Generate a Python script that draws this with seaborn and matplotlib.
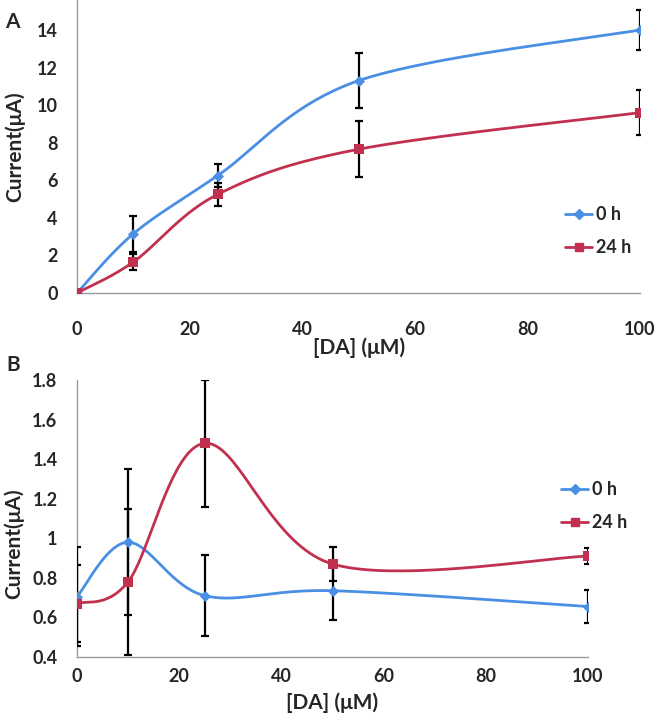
import numpy as np
import matplotlib
matplotlib.use("Agg")
import matplotlib.pyplot as plt
import seaborn as sns
from matplotlib.lines import Line2D
from matplotlib.ticker import FuncFormatter

# data
conc = [0, 10, 25, 50, 100]
a_0h = [0, 3.15, 6.25, 11.3, 14.0]
a_0h_err = [0, 0.95, 0.6, 1.45, 1.05]
a_24h = [0, 1.65, 5.25, 7.65, 9.6]
a_24h_err = [0, 0.45, 0.62, 1.5, 1.2]
b_0h = [0.705, 0.98, 0.71, 0.735, 0.655]
b_0h_err = [0.25, 0.37, 0.205, 0.15, 0.085]
b_24h = [0.67, 0.78, 1.48, 0.87, 0.91]
b_24h_err = [0.195, 0.37, 0.32, 0.085, 0.04]
labels = ["0 h", "24 h"]

blue = "#4a8fe3"
red = "#c1314f"

sns.set_style("white")
plt.rcParams["font.family"] = ["Lato", "DejaVu Sans"]
plt.rcParams["font.weight"] = "bold"


def smooth(xs, ys, n=40):
    # excel style smoothed line (bezier through the points)
    p = np.column_stack([xs, ys]).astype(float)
    p = np.vstack([p[0], p, p[-1]])
    out = []
    t = np.linspace(0, 1, n)[:, None]
    for i in range(1, len(p) - 2):
        p0, p3 = p[i], p[i + 1]
        c1 = p0 + (p[i + 1] - p[i - 1]) / 6
        c2 = p3 - (p[i + 2] - p[i]) / 6
        seg = (1 - t) ** 3 * p0 + 3 * (1 - t) ** 2 * t * c1 + 3 * (1 - t) * t ** 2 * c2 + t ** 3 * p3
        out.append(seg if i == 1 else seg[1:])
    out = np.vstack(out)
    return out[:, 0], out[:, 1]


def draw(ax, series, legend_xy):
    for vals, errs, col, mk, ms in series:
        sx, sy = smooth(conc, vals)
        sns.lineplot(x=sx, y=sy, ax=ax, color=col, lw=2.0, sort=False, estimator=None)
        ax.errorbar(conc, vals, yerr=errs, fmt="none", ecolor="black",
                    elinewidth=1.6, capsize=2.6, capthick=1.6, zorder=4)
        sns.scatterplot(x=conc, y=vals, ax=ax, color=col, marker=mk, s=ms,
                        edgecolor=col, linewidth=0, zorder=5)
    handles = [Line2D([], [], color=blue, lw=2.0, marker="D", ms=5.5),
               Line2D([], [], color=red, lw=2.0, marker="s", ms=6)]
    ax.legend(handles, labels, loc="center left", bbox_to_anchor=legend_xy,
              frameon=False, fontsize=13, handlelength=1.5, handletextpad=0.2,
              labelspacing=0.9, borderpad=0, borderaxespad=0)
    for s in ["top", "right"]:
        ax.spines[s].set_visible(False)
    for s in ["left", "bottom"]:
        ax.spines[s].set_color("#9a9a9a")
        ax.spines[s].set_linewidth(1.0)
    ax.set_xlim(0, 100)
    ax.set_xticks([0, 20, 40, 60, 80, 100])
    ax.tick_params(length=0, labelsize=13)


fig = plt.figure(figsize=(6.57, 7.14), dpi=100)

axA = fig.add_axes([77 / 657, 1 - 293 / 714, 563 / 657, 293 / 714])
draw(axA, [(a_0h, a_0h_err, blue, "D", 32), (a_24h, a_24h_err, red, "s", 42)],
     (488 / 563, 1 - 231 / 293))
axA.set_ylim(0, 293 / 18.79)
axA.set_yticks(range(0, 15, 2))
axA.tick_params(axis="x", pad=20)
axA.tick_params(axis="y", pad=14)

axB = fig.add_axes([77 / 657, 1 - 657 / 714, 511 / 657, 277 / 714])
draw(axB, [(b_0h, b_0h_err, blue, "D", 32), (b_24h, b_24h_err, red, "s", 42)],
     (484 / 511, 1 - (506 - 380) / 277))
axB.set_ylim(0.4, 1.8)
axB.set_yticks(np.arange(0.4, 1.81, 0.2))
axB.yaxis.set_major_formatter(FuncFormatter(lambda v, p: f"{v:g}"))
axB.tick_params(axis="x", pad=8)
axB.tick_params(axis="y", pad=14)

kw = dict(fontsize=15, fontweight="bold", ha="center", va="center")
fig.text(359 / 657, 1 - 348 / 714, "[DA] (μM)", **kw)
fig.text(332 / 657, 1 - 703 / 714, "[DA] (μM)", **kw)
fig.text(15 / 657, 1 - 147 / 714, "Current(μA)", rotation=90, **kw)
fig.text(14 / 657, 1 - 544 / 714, "Current(μA)", rotation=90, **kw)
fig.text(12 / 657, 1 - 22 / 714, "A", **kw)
fig.text(13 / 657, 1 - 365 / 714, "B", **kw)

fig.savefig("out.png", dpi=100)
